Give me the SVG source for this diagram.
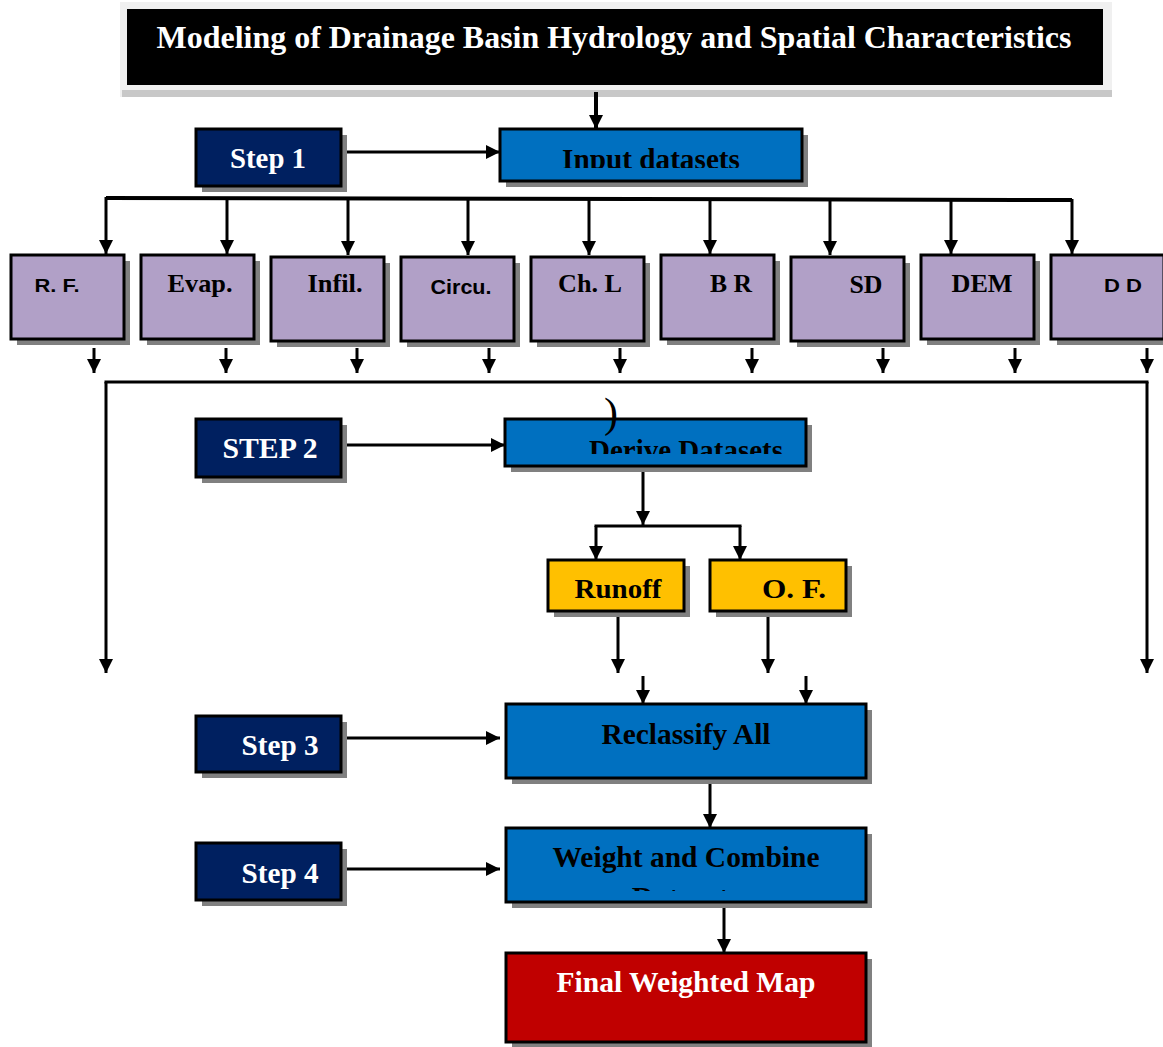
<svg xmlns="http://www.w3.org/2000/svg" width="1163" height="1047" viewBox="0 0 1163 1047">
<defs>
<marker id="ah" markerUnits="userSpaceOnUse" markerWidth="14" markerHeight="14" viewBox="0 0 14 14" refX="14" refY="7" orient="auto">
<path d="M0,0 L14,7 L0,14 z" fill="#000"/>
</marker>
<clipPath id="cInput"><rect x="500" y="129" width="302" height="39"/></clipPath>
<clipPath id="cDerive"><rect x="505" y="419" width="301" height="35"/></clipPath>
<clipPath id="cWeight"><rect x="506" y="828" width="360" height="63"/></clipPath>
</defs>
<style>
.sh{fill:#808080}
.box{stroke:#000;stroke-width:3}
.navy{fill:#002060}
.blue{fill:#0070C0}
.purple{fill:#B1A0C7}
.gold{fill:#FFC000}
.red{fill:#C00000}
.t{font-family:"Liberation Serif","Times New Roman",serif;font-weight:bold;text-anchor:middle}
.s{font-family:"Liberation Sans",Arial,sans-serif;font-weight:bold;text-anchor:middle}
.w{fill:#fff}
.k{fill:#000}
.c{stroke:#000;stroke-width:3;fill:none}
.ca{stroke:#000;stroke-width:3;fill:none;marker-end:url(#ah)}
</style>
<rect width="1163" height="1047" fill="#fff"/>

<g id="title">
<rect x="120" y="2" width="992" height="95" fill="#f0f0f0"/>
<rect x="122" y="90" width="990" height="7" fill="#c8c8c8"/>
<rect x="127" y="9" width="976" height="76" fill="#000"/>
<text class="t w" x="614" y="48" font-size="31" textLength="915" lengthAdjust="spacingAndGlyphs">Modeling of Drainage Basin Hydrology and Spatial Characteristics</text>
</g>

<g id="connectors">
<line class="ca" x1="596" y1="92" x2="596" y2="129" style="stroke-width:4"/>
<line class="ca" x1="341" y1="152" x2="500" y2="152"/>
<polyline class="c" points="106,198 1072,200" style="stroke-width:4"/>
<line class="ca" x1="106" y1="197" x2="106" y2="254"/>
<line class="ca" x1="227" y1="198" x2="227" y2="254"/>
<line class="ca" x1="348" y1="198" x2="348" y2="255"/>
<line class="ca" x1="468" y1="198" x2="468" y2="255"/>
<line class="ca" x1="589" y1="198" x2="589" y2="255"/>
<line class="ca" x1="710" y1="199" x2="710" y2="254"/>
<line class="ca" x1="830" y1="199" x2="830" y2="255"/>
<line class="ca" x1="951" y1="199" x2="951" y2="254"/>
<line class="ca" x1="1072" y1="199" x2="1072" y2="254"/>
<line class="ca" x1="94" y1="348" x2="94" y2="373"/>
<line class="ca" x1="226" y1="348" x2="226" y2="373"/>
<line class="ca" x1="357" y1="348" x2="357" y2="373"/>
<line class="ca" x1="489" y1="348" x2="489" y2="373"/>
<line class="ca" x1="620" y1="348" x2="620" y2="373"/>
<line class="ca" x1="752" y1="348" x2="752" y2="373"/>
<line class="ca" x1="883" y1="348" x2="883" y2="373"/>
<line class="ca" x1="1015" y1="348" x2="1015" y2="373"/>
<line class="ca" x1="1147" y1="348" x2="1147" y2="373"/>
<line class="c" x1="104.5" y1="382" x2="1148.5" y2="382"/>
<line class="ca" x1="106" y1="382" x2="106" y2="673"/>
<line class="ca" x1="1147" y1="382" x2="1147" y2="673"/>
<line class="ca" x1="341" y1="445" x2="505" y2="445"/>
<line class="ca" x1="643" y1="470" x2="643" y2="525"/>
<polyline class="c" points="596,527 596,526 740,526 740,527"/>
<line class="ca" x1="596" y1="526" x2="596" y2="560"/>
<line class="ca" x1="740" y1="526" x2="740" y2="560"/>
<line class="ca" x1="618" y1="612" x2="618" y2="673"/>
<line class="ca" x1="768" y1="612" x2="768" y2="673"/>
<line class="ca" x1="643" y1="676" x2="643" y2="704"/>
<line class="ca" x1="806" y1="676" x2="806" y2="704"/>
<line class="ca" x1="341" y1="738" x2="500" y2="738"/>
<line class="ca" x1="710" y1="779" x2="710" y2="828"/>
<line class="ca" x1="341" y1="869" x2="500" y2="869"/>
<line class="ca" x1="724" y1="904" x2="724" y2="953"/>
</g>

<g id="step1">
<rect class="sh" x="202" y="135" width="145" height="57"/>
<rect class="box navy" x="196" y="129" width="145" height="57"/>
<text class="t w" x="268" y="168" font-size="29" textLength="76" lengthAdjust="spacingAndGlyphs">Step 1</text>
</g>
<g id="input">
<rect class="sh" x="506" y="135" width="302" height="52"/>
<rect class="box blue" x="500" y="129" width="302" height="52"/>
<text class="t k" x="651" y="169" font-size="30" textLength="178" lengthAdjust="spacingAndGlyphs" clip-path="url(#cInput)">Input datasets</text>
</g>

<g id="rf"><rect class="sh" x="17" y="261" width="113" height="84"/><rect class="box purple" x="11" y="255" width="113" height="84"/><text class="s k" x="57" y="292" font-size="19" textLength="45" lengthAdjust="spacingAndGlyphs">R. F.</text></g>
<g id="evap"><rect class="sh" x="147" y="261" width="113" height="84"/><rect class="box purple" x="141" y="255" width="113" height="84"/><text class="t k" x="200" y="292" font-size="25" textLength="65" lengthAdjust="spacingAndGlyphs">Evap.</text></g>
<g id="infil"><rect class="sh" x="277" y="263" width="113" height="84"/><rect class="box purple" x="271" y="257" width="113" height="84"/><text class="t k" x="335" y="292" font-size="25" textLength="55" lengthAdjust="spacingAndGlyphs">Infil.</text></g>
<g id="circu"><rect class="sh" x="407" y="263" width="113" height="84"/><rect class="box purple" x="401" y="257" width="113" height="84"/><text class="s k" x="461" y="294" font-size="20" textLength="61" lengthAdjust="spacingAndGlyphs">Circu.</text></g>
<g id="chl"><rect class="sh" x="537" y="263" width="113" height="84"/><rect class="box purple" x="531" y="257" width="113" height="84"/><text class="t k" x="590" y="292" font-size="25" textLength="64" lengthAdjust="spacingAndGlyphs">Ch. L</text></g>
<g id="br"><rect class="sh" x="667" y="261" width="113" height="84"/><rect class="box purple" x="661" y="255" width="113" height="84"/><text class="t k" x="731" y="292" font-size="25" textLength="42" lengthAdjust="spacingAndGlyphs">B R</text></g>
<g id="sd"><rect class="sh" x="797" y="263" width="113" height="84"/><rect class="box purple" x="791" y="257" width="113" height="84"/><text class="t k" x="866" y="293" font-size="25" textLength="33" lengthAdjust="spacingAndGlyphs">SD</text></g>
<g id="dem"><rect class="sh" x="927" y="261" width="113" height="84"/><rect class="box purple" x="921" y="255" width="113" height="84"/><text class="t k" x="982" y="292" font-size="25" textLength="61" lengthAdjust="spacingAndGlyphs">DEM</text></g>
<g id="dd"><rect class="sh" x="1057" y="261" width="113" height="84"/><rect class="box purple" x="1051" y="255" width="113" height="84"/><text class="s k" x="1123" y="292" font-size="19" textLength="38" lengthAdjust="spacingAndGlyphs">D D</text></g>

<g id="step2">
<rect class="sh" x="202" y="425" width="145" height="58"/>
<rect class="box navy" x="196" y="419" width="145" height="58"/>
<text class="t w" x="270" y="458" font-size="29" textLength="95" lengthAdjust="spacingAndGlyphs">STEP 2</text>
</g>
<g id="derive">
<rect class="sh" x="511" y="425" width="301" height="47"/>
<rect class="box blue" x="505" y="419" width="301" height="47"/>
<text class="t k" x="686" y="460" font-size="30" textLength="194" lengthAdjust="spacingAndGlyphs" clip-path="url(#cDerive)">Derive Datasets</text>
<text class="t k" x="611" y="427" font-size="42" style="font-weight:normal">)</text>
</g>

<g id="runoff">
<rect class="sh" x="554" y="566" width="136" height="51"/>
<rect class="box gold" x="548" y="560" width="136" height="51"/>
<text class="t k" x="618" y="598" font-size="28" textLength="87" lengthAdjust="spacingAndGlyphs">Runoff</text>
</g>
<g id="of">
<rect class="sh" x="716" y="566" width="136" height="51"/>
<rect class="box gold" x="710" y="560" width="136" height="51"/>
<text class="t k" x="794" y="598" font-size="28" textLength="64" lengthAdjust="spacingAndGlyphs">O. F.</text>
</g>

<g id="step3">
<rect class="sh" x="202" y="722" width="145" height="56"/>
<rect class="box navy" x="196" y="716" width="145" height="56"/>
<text class="t w" x="280" y="755" font-size="29" textLength="77" lengthAdjust="spacingAndGlyphs">Step 3</text>
</g>
<g id="reclassify">
<rect class="sh" x="512" y="710" width="360" height="74"/>
<rect class="box blue" x="506" y="704" width="360" height="74"/>
<text class="t k" x="686" y="744" font-size="30" textLength="169" lengthAdjust="spacingAndGlyphs">Reclassify All</text>
</g>

<g id="step4">
<rect class="sh" x="202" y="849" width="145" height="57"/>
<rect class="box navy" x="196" y="843" width="145" height="57"/>
<text class="t w" x="280" y="883" font-size="29" textLength="77" lengthAdjust="spacingAndGlyphs">Step 4</text>
</g>
<g id="weight">
<rect class="sh" x="512" y="834" width="360" height="74"/>
<rect class="box blue" x="506" y="828" width="360" height="74"/>
<text class="t k" x="686" y="867" font-size="30" textLength="267" lengthAdjust="spacingAndGlyphs">Weight and Combine</text>
<text class="t k" x="686" y="907" font-size="30" clip-path="url(#cWeight)">Datasets</text>
</g>

<g id="final">
<rect class="sh" x="512" y="959" width="360" height="88"/>
<rect class="box red" x="506" y="953" width="360" height="89"/>
<text class="t w" x="686" y="992" font-size="30" textLength="259" lengthAdjust="spacingAndGlyphs">Final Weighted Map</text>
</g>
</svg>
